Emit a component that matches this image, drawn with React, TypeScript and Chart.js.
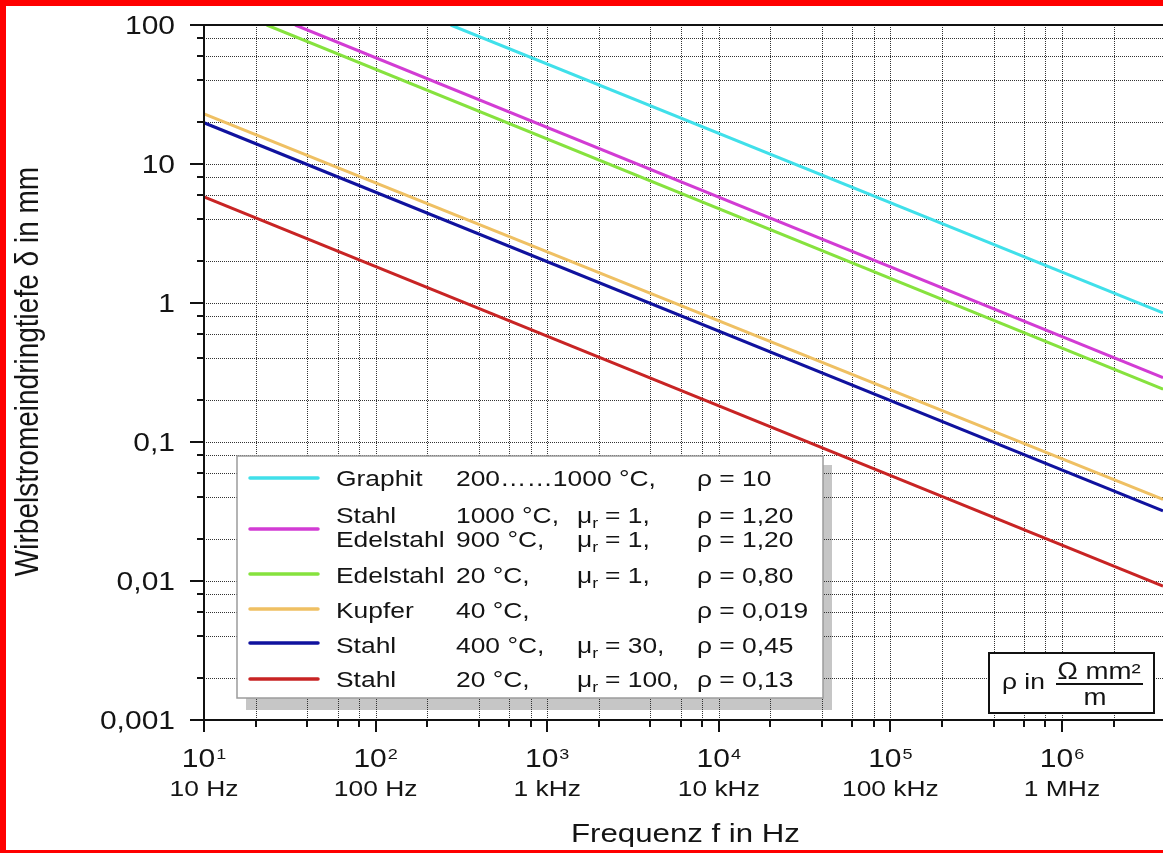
import React, { useEffect, useRef } from 'react';
import { Chart, registerables } from 'chart.js';

Chart.register(...registerables);

// ---------- data ----------
const X_MIN = 10;
const X_MAX = 3.88e6;
const Y_MIN = 0.001;
const Y_MAX = 100;

const seriesNames = ['Graphit', 'Stahl 1000 °C / Edelstahl 900 °C', 'Edelstahl 20 °C', 'Kupfer 40 °C', 'Stahl 400 °C', 'Stahl 20 °C'];
const seriesColors = ['#40e0ea', '#d23cd4', '#86e23e', '#efc063', '#10129e', '#c82424'];

const graphitFreq = [274, 3.88e6];
const graphitDepth = [100, 0.85];
const stahl1000Freq = [34, 3.88e6];
const stahl1000Depth = [100, 0.29];
const edelstahl20Freq = [23.2, 3.88e6];
const edelstahl20Depth = [100, 0.24];
const kupferFreq = [10, 3.88e6];
const kupferDepth = [22.9, 0.0387];
const stahl400Freq = [10, 3.88e6];
const stahl400Depth = [19.8, 0.032];
const stahl20Freq = [10, 3.88e6];
const stahl20Depth = [5.8, 0.0092];

const seriesFreqs = [graphitFreq, stahl1000Freq, edelstahl20Freq, kupferFreq, stahl400Freq, stahl20Freq];
const seriesDepths = [graphitDepth, stahl1000Depth, edelstahl20Depth, kupferDepth, stahl400Depth, stahl20Depth];

const yMajorTicks = [100, 10, 1, 0.1, 0.01, 0.001];
const yTickLabels = ['100', '10', '1', '0,1', '0,01', '0,001'];
const xMajorTicks = [1e1, 1e2, 1e3, 1e4, 1e5, 1e6];
const xTickExponents = ['1', '2', '3', '4', '5', '6'];
const xTickUnits = ['10 Hz', '100 Hz', '1 kHz', '10 kHz', '100 kHz', '1 MHz'];
const minorMultipliers = [2, 4, 6, 8];

const legendMaterial = ['Graphit', 'Stahl', 'Edelstahl', 'Edelstahl', 'Kupfer', 'Stahl', 'Stahl'];
const legendTemp = ['200……1000 °C,', '1000 °C,', '900 °C,', '20 °C,', '40 °C,', '400 °C,', '20 °C,'];
const legendMu = ['', '1,', '1,', '1,', '', '30,', '100,'];
const legendRho = ['10', '1,20', '1,20', '0,80', '0,019', '0,45', '0,13'];
const legendSeriesIndex = [0, 1, 1, 2, 3, 4, 5];

const xTitle = 'Frequenz f in Hz';
const yTitle = 'Wirbelstromeindringtiefe δ in mm';

// ---------- drawing helpers ----------
const FONT = '"Liberation Sans", Arial, Helvetica, sans-serif';
const SX = 1.2;
const TXT = '#141414';

function txt(ctx: CanvasRenderingContext2D, s: string, x: number, y: number, size: number, align: CanvasTextAlign = 'left') {
  ctx.save();
  ctx.font = `${size}px ${FONT}`;
  ctx.fillStyle = TXT;
  ctx.textBaseline = 'alphabetic';
  ctx.textAlign = align;
  ctx.translate(x, y);
  ctx.scale(SX, 1);
  ctx.fillText(s, 0, 0);
  ctx.restore();
}

function tw(ctx: CanvasRenderingContext2D, s: string, size: number) {
  ctx.save();
  ctx.font = `${size}px ${FONT}`;
  const w = ctx.measureText(s).width * SX;
  ctx.restore();
  return w;
}

function line(ctx: CanvasRenderingContext2D, x1: number, y1: number, x2: number, y2: number) {
  ctx.beginPath();
  ctx.moveTo(x1, y1);
  ctx.lineTo(x2, y2);
  ctx.stroke();
}

function allGridValues(min: number, max: number) {
  const out: { v: number; major: boolean }[] = [];
  for (let e = -4; e <= 8; e++) {
    const base = Math.pow(10, e);
    [1, ...minorMultipliers].forEach((m) => {
      const v = m * base;
      if (v >= min * 0.9999 && v <= max * 1.0001) out.push({ v, major: m === 1 });
    });
  }
  return out;
}

const LEGEND_BASELINES = [486, 523, 547, 583, 618, 653, 687];
const LEGEND_LINE_Y = [478, 529, 529, 574, 609, 643, 679];

const customPlugin = {
  id: 'customDraw',
  beforeDraw(chart: any) {
    const ctx = chart.ctx as CanvasRenderingContext2D;
    ctx.save();
    ctx.fillStyle = '#ffffff';
    ctx.fillRect(0, 0, chart.width, chart.height);
    // legend shadow (under grid)
    ctx.fillStyle = '#c6c6c6';
    ctx.fillRect(246, 465, 586, 245);
    ctx.restore();
  },
  beforeDatasetsDraw(chart: any) {
    const ctx = chart.ctx as CanvasRenderingContext2D;
    const a = chart.chartArea;
    const xs = chart.scales.x;
    const ys = chart.scales.y;
    ctx.save();
    ctx.beginPath();
    ctx.rect(a.left, a.top, a.right - a.left, a.bottom - a.top);
    ctx.clip();
    ctx.strokeStyle = '#333333';
    ctx.lineWidth = 1;
    ctx.setLineDash([1, 1]);
    allGridValues(X_MIN, X_MAX).forEach(({ v }) => {
      const px = Math.round(xs.getPixelForValue(v)) + 0.5;
      if (px < a.left + 2) return;
      line(ctx, px, a.top, px, a.bottom);
    });
    allGridValues(Y_MIN, Y_MAX).forEach(({ v }) => {
      const py = Math.round(ys.getPixelForValue(v)) + 0.5;
      if (py > a.bottom - 2 || py < a.top + 2) return;
      line(ctx, a.left, py, a.right, py);
    });
    ctx.restore();
  },
  afterDatasetsDraw(chart: any) {
    const ctx = chart.ctx as CanvasRenderingContext2D;
    const a = chart.chartArea;
    const xs = chart.scales.x;
    const ys = chart.scales.y;
    ctx.save();
    ctx.setLineDash([]);
    ctx.strokeStyle = '#111111';
    ctx.lineWidth = 2;
    // axes & top border
    line(ctx, a.left, a.top, a.left, a.bottom + 12);
    line(ctx, a.left - 14, a.bottom, a.right, a.bottom);
    line(ctx, a.left - 14, a.top, a.right, a.top);
    // ticks
    allGridValues(Y_MIN, Y_MAX).forEach(({ v, major }) => {
      const py = Math.round(ys.getPixelForValue(v));
      line(ctx, a.left - (major ? 14 : 7), py, a.left, py);
    });
    allGridValues(X_MIN, X_MAX).forEach(({ v, major }) => {
      const px = Math.round(xs.getPixelForValue(v));
      line(ctx, px, a.bottom, px, a.bottom + (major ? 12 : 7));
    });

    // y tick labels
    yMajorTicks.forEach((v, i) => {
      const py = ys.getPixelForValue(v);
      txt(ctx, yTickLabels[i], 175, py + 8.5, 25, 'right');
    });
    // x tick labels
    xMajorTicks.forEach((v, i) => {
      const px = xs.getPixelForValue(v);
      const w1 = tw(ctx, '10', 25);
      const w2 = tw(ctx, xTickExponents[i], 15);
      const start = px - (w1 + w2 + 1) / 2;
      txt(ctx, '10', start, 767, 25, 'left');
      txt(ctx, xTickExponents[i], start + w1 + 1, 759, 15, 'left');
      txt(ctx, xTickUnits[i], px, 796, 22, 'center');
    });

    // axis titles
    txt(ctx, xTitle, (a.left + a.right) / 2 + 2, 842, 26, 'center');
    ctx.save();
    ctx.font = `28px ${FONT}`;
    ctx.fillStyle = TXT;
    ctx.textAlign = 'center';
    ctx.textBaseline = 'alphabetic';
    ctx.translate(38, 371.5);
    ctx.rotate(-Math.PI / 2);
    ctx.scale(1, SX);
    ctx.fillText(yTitle, 0, 0);
    ctx.restore();

    // legend box
    ctx.fillStyle = '#ffffff';
    ctx.fillRect(237, 456, 586, 242);
    ctx.strokeStyle = '#9c9c9c';
    ctx.lineWidth = 1.5;
    ctx.strokeRect(237, 456, 586, 242);
    ctx.lineWidth = 3.5;
    ctx.lineCap = 'round';
    [0, 1, 3, 4, 5, 6].forEach((r) => {
      ctx.strokeStyle = seriesColors[legendSeriesIndex[r]];
      line(ctx, 250, LEGEND_LINE_Y[r], 318, LEGEND_LINE_Y[r]);
    });
    ctx.lineCap = 'butt';
    legendMaterial.forEach((m, r) => {
      const b = LEGEND_BASELINES[r];
      txt(ctx, m, 336, b, 22);
      txt(ctx, legendTemp[r], 456, b, 22);
      if (legendMu[r]) {
        txt(ctx, 'μ', 577, b, 22);
        const wm = tw(ctx, 'μ', 22);
        txt(ctx, 'r', 577 + wm, b + 5, 15);
        txt(ctx, '= ' + legendMu[r], 605, b, 22);
      }
      txt(ctx, 'ρ = ' + legendRho[r], 697, b, 22);
    });

    // rho unit box
    ctx.fillStyle = '#ffffff';
    ctx.fillRect(989, 653, 165, 60);
    ctx.strokeStyle = '#111111';
    ctx.lineWidth = 2;
    ctx.strokeRect(989, 653, 165, 60);
    txt(ctx, 'ρ in', 1002, 689, 22);
    txt(ctx, 'Ω mm²', 1099, 679, 23, 'center');
    line(ctx, 1056, 684, 1143, 684);
    txt(ctx, 'm', 1095, 705, 23, 'center');

    // red frame
    ctx.fillStyle = '#ff0000';
    ctx.fillRect(0, 0, chart.width, 6);
    ctx.fillRect(0, 0, 6, chart.height);
    ctx.fillRect(0, chart.height - 3, chart.width, 3);
    ctx.restore();
  },
};

export default function App() {
  const ref = useRef<HTMLCanvasElement | null>(null);
  useEffect(() => {
    if (!ref.current) return;
    const chart = new Chart(ref.current, {
      type: 'line',
      data: {
        datasets: seriesNames.map((name, i) => ({
          label: name,
          data: seriesFreqs[i].map((f, j) => ({ x: f, y: seriesDepths[i][j] })),
          borderColor: seriesColors[i],
          backgroundColor: seriesColors[i],
          borderWidth: 3,
          pointRadius: 0,
          tension: 0,
          fill: false,
        })),
      },
      options: {
        responsive: false,
        animation: false,
        layout: { padding: { left: 204, top: 25, right: 0, bottom: 133 } },
        plugins: { legend: { display: false }, tooltip: { enabled: false }, title: { display: false } },
        scales: {
          x: { type: 'logarithmic', min: X_MIN, max: X_MAX, display: false },
          y: { type: 'logarithmic', min: Y_MIN, max: Y_MAX, display: false },
        },
      },
      plugins: [customPlugin],
    } as any);
    return () => chart.destroy();
  }, []);
  return (
    <div style={{ position: 'absolute', left: 0, top: 0, width: 1163, height: 853 }}>
      <canvas ref={ref} width={1163} height={853} style={{ display: 'block', width: 1163, height: 853 }} />
    </div>
  );
}
